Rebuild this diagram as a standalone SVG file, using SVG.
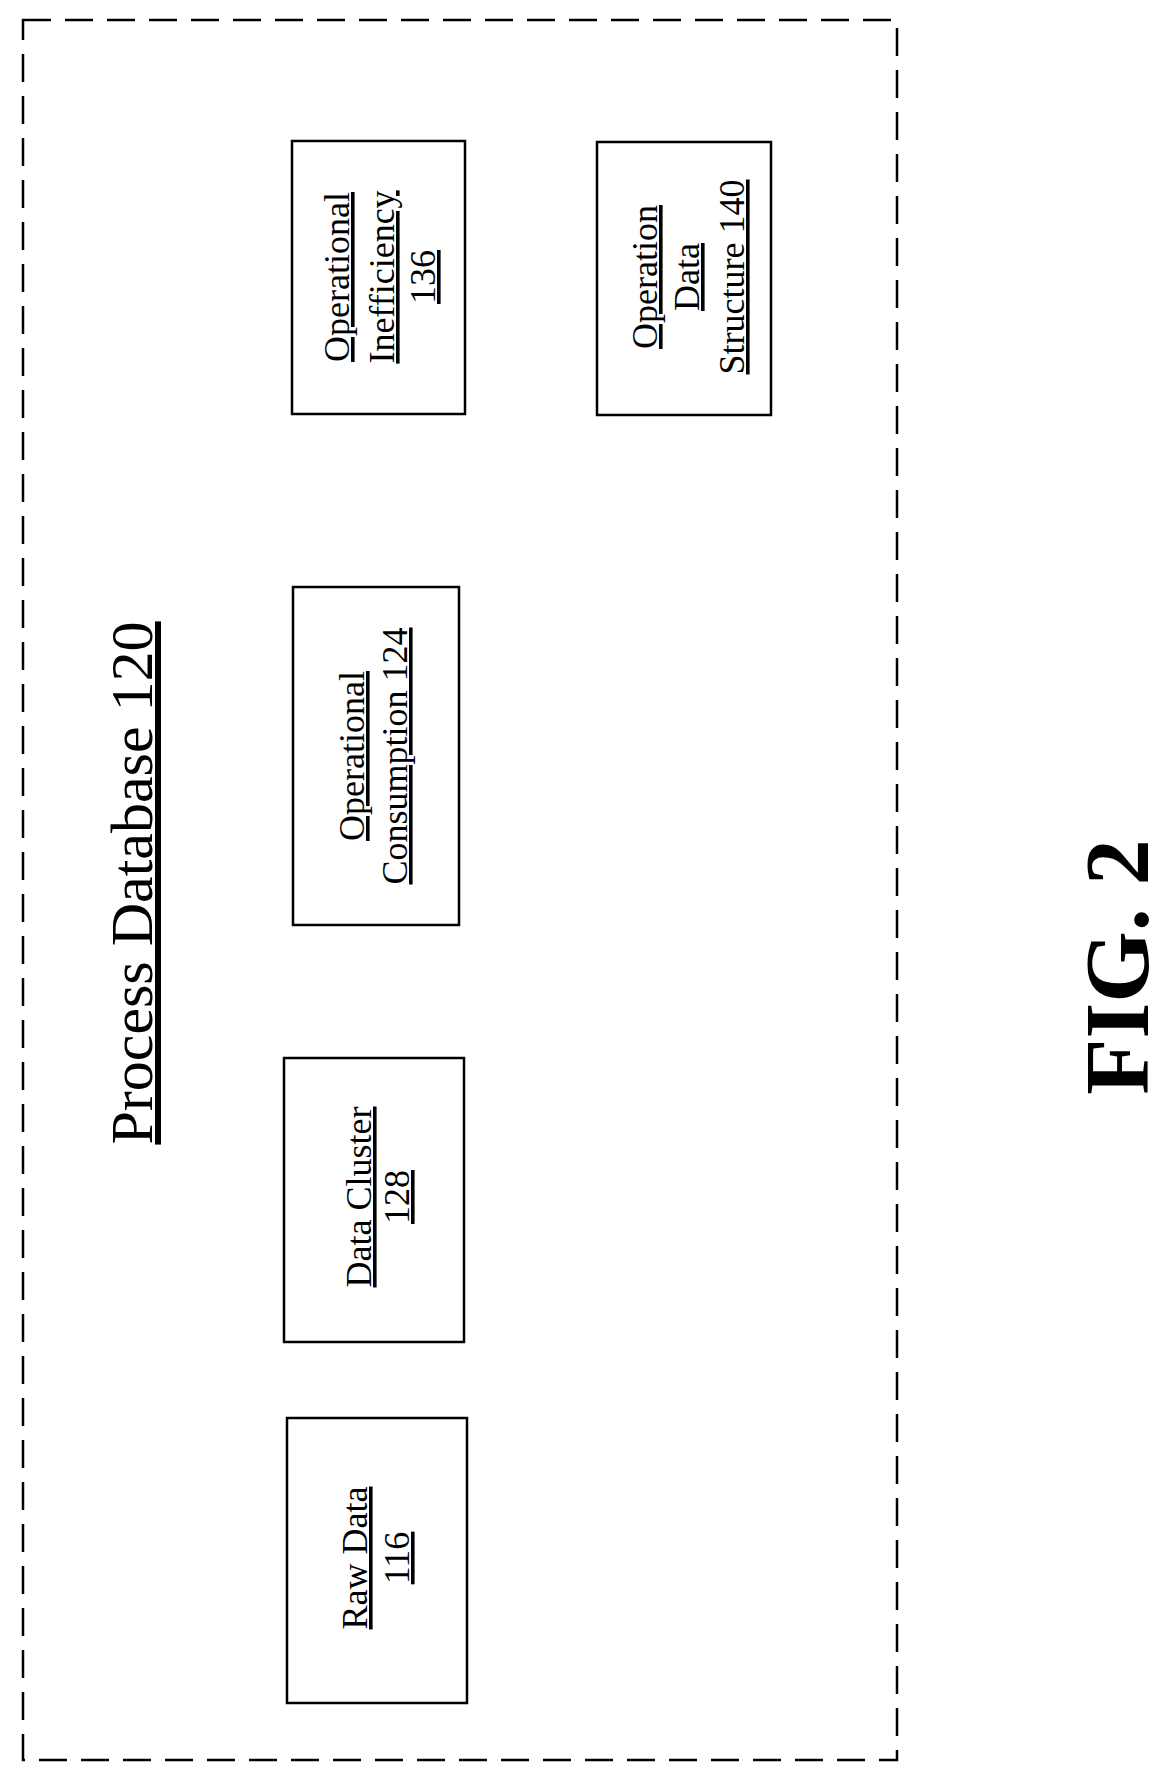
<svg xmlns="http://www.w3.org/2000/svg" width="1169" height="1771" viewBox="0 0 1169 1771">
<style>
.b{fill:#fff;stroke:#000;stroke-width:2.5}
.t{font-family:"Liberation Serif",serif;font-size:36px;text-anchor:middle;text-decoration:underline}
</style>
<rect width="1169" height="1771" fill="#fff"/>
<g id="container">
<rect x="23" y="20" width="874" height="1740" fill="none" stroke="#000" stroke-width="2.5" stroke-dasharray="28,14"/>
<text transform="translate(152,883) rotate(-90)" font-family="Liberation Serif,serif" font-size="60" text-anchor="middle" text-decoration="underline">Process Database 120</text>
</g>
<g id="n136"><rect class="b" x="292" y="141" width="173" height="273"/>
<text class="t" transform="translate(0,277) rotate(-90)"><tspan x="0" y="349">Operational</tspan><tspan x="0" y="394">Inefficiency</tspan><tspan x="0" y="435">136</tspan></text></g>
<g id="n140"><rect class="b" x="597" y="142" width="174" height="273"/>
<text class="t" transform="translate(0,277) rotate(-90)"><tspan x="0" y="657">Operation</tspan><tspan x="0" y="699">Data</tspan><tspan x="0" y="744">Structure 140</tspan></text></g>
<g id="n124"><rect class="b" x="293" y="587" width="166" height="338"/>
<text class="t" transform="translate(0,756) rotate(-90)"><tspan x="0" y="364">Operational</tspan><tspan x="0" y="407">Consumption 124</tspan></text></g>
<g id="n128"><rect class="b" x="284" y="1058" width="180" height="284"/>
<text class="t" transform="translate(0,1197) rotate(-90)"><tspan x="0" y="371">Data Cluster</tspan><tspan x="0" y="409">128</tspan></text></g>
<g id="n116"><rect class="b" x="287" y="1418" width="180" height="285"/>
<text class="t" transform="translate(0,1558) rotate(-90)"><tspan x="0" y="367">Raw Data</tspan><tspan x="0" y="409">116</tspan></text></g>
<g id="connectors"/>
<text transform="translate(1148,967) rotate(-90)" font-family="Liberation Serif,serif" font-size="92" font-weight="bold" text-anchor="middle">FIG. 2</text>
</svg>
